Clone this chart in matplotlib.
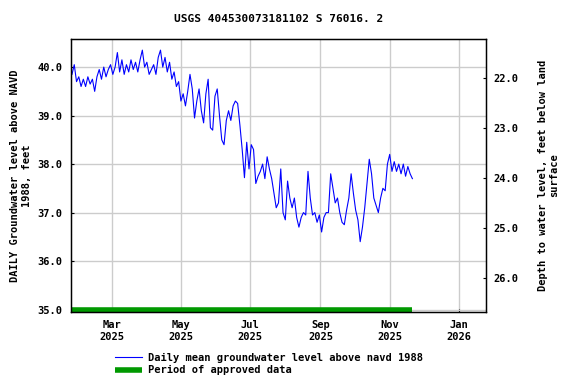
import numpy as np
import matplotlib
matplotlib.use("Agg")
import matplotlib.pyplot as plt

# daily mean level (read every 2 days from the reference), start 2025-01-25
start = np.datetime64("2025-01-25")
level = [39.85, 40.05, 39.7, 39.8, 39.6, 39.75, 39.6, 39.8, 39.65, 39.75,
         39.5, 39.8, 39.95, 39.75, 40.0, 39.8, 39.95, 40.05, 39.85, 40.0,
         40.3, 39.9, 40.15, 39.85, 40.05, 39.9, 40.15, 39.95, 40.1, 39.9,
         40.15, 40.35, 40.0, 40.1, 39.85, 39.95, 40.05, 39.85, 40.2, 40.35,
         40.0, 40.2, 39.9, 40.1, 39.75, 39.9, 39.6, 39.7, 39.3, 39.45,
         39.2, 39.5, 39.85, 39.55, 38.95, 39.3, 39.55, 39.1, 38.85, 39.45,
         39.75, 38.75, 38.7, 39.4, 39.55, 39.0, 38.5, 38.4, 38.9, 39.1,
         38.9, 39.2, 39.3, 39.25, 38.8, 38.3, 37.72, 38.45, 37.9, 38.4,
         38.3, 37.6, 37.75, 37.85, 38.0, 37.7, 38.15, 37.9, 37.7, 37.4,
         37.1, 37.2, 37.9, 37.0, 36.85, 37.65, 37.3, 37.1, 37.3, 36.9,
         36.7, 36.9, 37.0, 36.95, 37.85, 37.3, 36.95, 37.0, 36.8, 36.95,
         36.6, 36.9, 37.0, 37.0, 37.8, 37.5, 37.2, 37.3, 37.0, 36.8,
         36.75, 37.05, 37.3, 37.8, 37.4, 37.05, 36.85, 36.4, 36.7, 37.1,
         37.6, 38.1, 37.8, 37.3, 37.15, 37.0, 37.3, 37.5, 37.45, 38.0,
         38.2, 37.85, 38.05, 37.85, 38.0, 37.8, 38.0, 37.75, 37.95, 37.8,
         37.7]
dates = start + np.arange(len(level)) * np.timedelta64(2, "D")
dates = dates.astype("datetime64[D]").astype(object)

approved_start = np.datetime64("2025-01-25").astype(object)
approved_end = np.datetime64("2025-11-21").astype(object)

left_ticks = [35.0, 36.0, 37.0, 38.0, 39.0, 40.0]
right_ticks = [22.0, 23.0, 24.0, 25.0, 26.0]
month_ticks = ["2025-03-01", "2025-05-01", "2025-07-01", "2025-09-01",
               "2025-11-01", "2026-01-01"]
month_labels = ["Mar\n2025", "May\n2025", "Jul\n2025", "Sep\n2025",
                "Nov\n2025", "Jan\n2026"]

plt.rcParams["font.family"] = "DejaVu Sans Mono"
plt.rcParams["font.weight"] = "bold"
plt.rcParams["font.size"] = 7.5

fig = plt.figure(figsize=(5.76, 3.84), dpi=100)
ax = fig.add_axes([0.123, 0.1875, 0.721, 0.711])

ax.plot(dates, level, color="#0000ff", lw=0.8,
        label="Daily mean groundwater level above navd 1988")
ax.plot([approved_start, approved_end], [35.0, 35.0], color="#009900", lw=4,
        solid_capstyle="butt", label="Period of approved data")

ax.set_xlim(np.datetime64("2025-01-24").astype(object),
            np.datetime64("2026-01-25").astype(object))
ax.set_ylim(34.95, 40.58)
ax.set_yticks(left_ticks)
ax.set_yticklabels(["%.1f" % v for v in left_ticks])
xt = [np.datetime64(d).astype(object) for d in month_ticks]
ax.set_xticks(xt)
ax.set_xticklabels(month_labels)
ax.grid(True, color="#cccccc", lw=1)
ax.set_axisbelow(True)
ax.tick_params(direction="in", length=2, width=0.8, pad=6)
for s in ax.spines.values():
    s.set_linewidth(1)
ax.set_ylabel("DAILY Groundwater level above NAVD\n1988, feet",
              fontweight="bold")

ax2 = ax.twinx()
ax2.set_ylim(26.68, 21.22)
ax2.set_yticks(right_ticks)
ax2.set_yticklabels(["%.1f" % v for v in right_ticks])
ax2.tick_params(direction="in", length=2, width=0.8, pad=5)
ax2.set_ylabel("Depth to water level, feet below land\nsurface",
               fontweight="bold", labelpad=14)

ax.set_title("USGS 404530073181102 S 76016. 2", fontweight="bold",
             fontsize=8, pad=12)

fig.legend(loc="upper left", bbox_to_anchor=(0.19, 0.095), frameon=False,
           handlelength=2.6, handletextpad=0.6, labelspacing=0.25,
           borderpad=0, fontsize=7.5)

fig.savefig("out.png", dpi=100)
